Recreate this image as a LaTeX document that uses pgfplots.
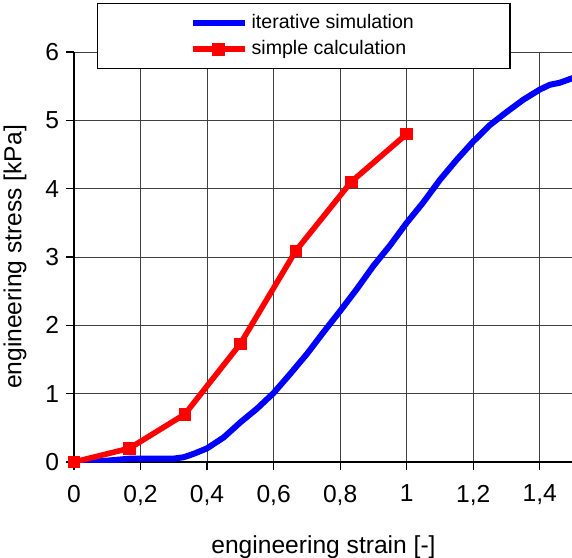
\documentclass[border=0pt]{standalone}
\usepackage{fontspec}
\setmainfont{Liberation Sans}
\usepackage{pgfplots}
\pgfplotsset{compat=1.18}

\begin{document}
\begin{tikzpicture}
\begin{axis}[
  name=ax,
  scale only axis,
  width=249.5pt, height=205pt,
  xmin=0, xmax=1.5, ymin=0, ymax=6,
  xtick={0,0.2,0.4,0.6,0.8,1,1.2,1.4},
  ytick={0,1,2,3,4,5,6},
  axis x line*=bottom, axis y line*=left,
  axis line style={black, line width=1pt},
  tick align=outside, major tick length=4pt,
  tick style={black, line width=0.6pt},
  grid=major,
  major grid style={black!75, line width=0.5pt},
  /pgf/number format/use comma,
  /pgf/number format/assume math mode=true,
  ticklabel style={font=\fontsize{12.3}{14}\selectfont},
  xticklabel style={yshift=-4pt},
  label style={font=\fontsize{12.3}{14}\selectfont},
  xlabel={engineering strain [-]},
  ylabel={engineering stress [kPa]},
  xlabel style={anchor=center, at={(axis description cs:0.5,-0.207)}},
  ylabel style={anchor=center, at={(axis description cs:-0.1182,0.5)}},
  legend style={at={(axis description cs:0.0461,1.1195)}, anchor=north west,
    draw=black, line width=0.6pt, inner xsep=46pt, inner ysep=3.3pt,
    font=\fontsize{9.8}{11.5}\selectfont, row sep=0.6pt},
  legend cell align=left,
  legend image code/.code={\draw[mark repeat=2,mark phase=2,#1] plot coordinates {(0pt,0pt)(13pt,0pt)(26pt,0pt)};},
]
\addplot[blue, line width=3pt, line join=round] coordinates {
  (0,0) (0.05,0.01) (0.1,0.02) (0.17,0.05) (0.25,0.05) (0.3,0.05) (0.33,0.07)
  (0.36,0.12) (0.4,0.2) (0.45,0.36) (0.5,0.58) (0.55,0.78) (0.6,1.01)
  (0.65,1.29) (0.7,1.58) (0.75,1.9) (0.8,2.21) (0.85,2.53) (0.9,2.87)
  (0.95,3.17) (1.0,3.5) (1.05,3.8) (1.1,4.13) (1.15,4.42) (1.2,4.69)
  (1.25,4.93) (1.3,5.12) (1.35,5.3) (1.4,5.45) (1.43,5.52) (1.46,5.55) (1.5,5.62)
};
\addlegendentry{iterative simulation}
\addplot[red, line width=2.8pt, mark=square*, mark size=2.9pt, mark options={solid, line width=0.4pt}] coordinates {
  (0,0) (0.1667,0.2) (0.3333,0.7) (0.5,1.73) (0.6667,3.09) (0.8333,4.1) (1,4.8)
};
\addlegendentry{simple calculation}
\end{axis}
\pgfresetboundingbox
\path ([xshift=-37pt,yshift=-47.5pt]ax.south west) rectangle ([xshift=-0.5pt,yshift=26pt]ax.north east);
\end{tikzpicture}
\end{document}
